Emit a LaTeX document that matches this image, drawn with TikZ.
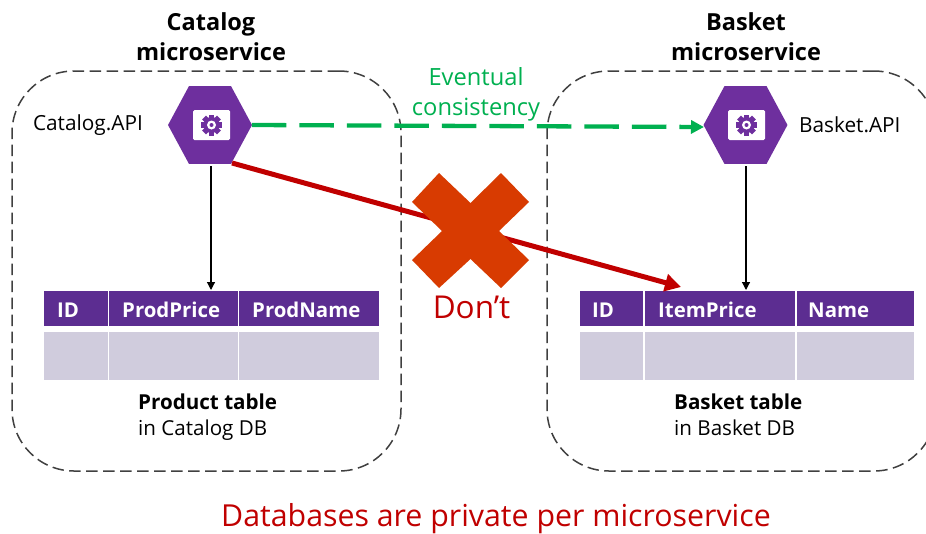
\documentclass[tikz,border=0pt]{standalone}
\usepackage{fontspec}
\setmainfont{Open Sans}
\usetikzlibrary{shapes.geometric,arrows.meta}
\definecolor{ppl}{HTML}{5C2D91}
\definecolor{hexp}{HTML}{6E2F9E}
\definecolor{lgt}{HTML}{D0CCDD}
\definecolor{redd}{HTML}{C00000}
\definecolor{org}{HTML}{D83B01}
\definecolor{grn}{HTML}{00B050}
\tikzset{
  svcbox/.style={draw=black!75,line width=1.5pt,dash pattern=on 11.5pt off 5.5pt,rounded corners=62pt,minimum width=389pt,minimum height=400pt,inner sep=0pt},
  hexa/.style={regular polygon,regular polygon sides=6,xscale=0.933,fill=hexp,minimum size=90pt,inner sep=0pt,outer sep=0pt},
  headcell/.style={fill=ppl,text=white,font=\fontsize{20.4}{24}\selectfont\bfseries,minimum height=35pt,inner xsep=13pt,inner ysep=0pt,anchor=west,align=left,text width=#1,text height=18pt,text depth=1pt},
  bodycell/.style={fill=lgt,minimum height=48pt,minimum width=#1,inner sep=0pt,anchor=west},
  title/.style={font=\fontsize{23.5}{30}\selectfont\bfseries,align=center},
  apilabel/.style={font=\fontsize{20.8}{24}\selectfont,anchor=west},
  caption/.style={font=\fontsize{20.6}{26}\selectfont,align=left,anchor=west,inner sep=0pt},
  link/.style={black,line width=1.2pt,-{Triangle[length=8pt,width=8pt]}},
}
\newcommand{\gearicon}[1]{%
  \begin{scope}[shift={(#1)}]
    \fill[white,rounded corners=1.5pt] (-18.5,-15) rectangle (18.5,15);
    \foreach \a in {0,45,...,315}{\fill[hexp,rotate=\a] (-2.8,-10.5) rectangle (2.8,0);}
    \fill[hexp] (0,0) circle (8);
    \fill[white] (0,0) circle (4.5);
    \fill[hexp] (0,0) circle (2);
  \end{scope}}
\begin{document}
\begin{tikzpicture}[x=1pt,y=-1pt]
\useasboundingbox (0,0) rectangle (926,533);
\clip (0,0) rectangle (926,533);
\node[svcbox] (catbox) at (206.5,271) {};
\node[svcbox] (basbox) at (741.5,271) {};
\node[title] (cattitle) at (211,37) {Catalog\\microservice};
\node[title] (bastitle) at (746,37) {Basket\\microservice};
\node[hexa] (catapi) at (210,125) {};
\node[hexa] (basapi) at (745.5,125) {};
\gearicon{211.5,125}
\gearicon{746.5,125}
\node[apilabel] (catlabel) at (29.5,125) {Catalog.API};
\node[apilabel] (baslabel) at (795.5,125) {Basket.API};
% product table
\node[headcell=38pt] (pid) at (44,308.5) {ID};
\node[headcell=103pt] (pprice) at (109,308.5) {ProdPrice};
\node[headcell=114pt] (pname) at (239,308.5) {ProdName};
\node[bodycell=64pt] (pb1) at (44,356) {};
\node[bodycell=129pt] (pb2) at (109,356) {};
\node[bodycell=140pt] (pb3) at (239,356) {};
% basket table
\node[headcell=39pt,inner xsep=12pt] (bid) at (580,308.5) {ID};
\node[headcell=124pt] (bprice) at (645,308.5) {ItemPrice};
\node[headcell=95pt,inner xsep=11pt] (bname) at (797,308.5) {Name};
\node[bodycell=63pt] (bb1) at (580,356) {};
\node[bodycell=150pt] (bb2) at (645,356) {};
\node[bodycell=117pt] (bb3) at (797,356) {};
\node[caption] (pcap) at (138,417) {\textbf{Product table}\\in Catalog DB};
\node[caption] (bcap) at (674,415) {\textbf{Basket table}\\in Basket DB};
\coordinate (catfoot) at (211,166);
\coordinate (catin) at (211,290);
\coordinate (basfoot) at (746,166);
\coordinate (basin) at (746,290);
\coordinate (redstart) at (232,163);
\coordinate (redend) at (681,287);
\coordinate (grnend) at (704,127);
\draw[link] (catfoot) -- (catin);
\draw[link] (basfoot) -- (basin);
\draw[grn,line width=4.3pt,dash pattern=on 34.5pt off 13pt,-{Triangle[length=13pt,width=13pt]}] (catapi.east) -- (grnend);
\draw[redd,line width=5pt,-{Triangle[length=16pt,width=17pt]}] (redstart) -- (redend);
\fill[org] (439,173) -- (470.5,203) -- (501,173) -- (529,202) -- (499,231) -- (529,260) -- (501,288) -- (470.5,259) -- (439,288) -- (412,260) -- (442,231) -- (412,202) -- cycle;
\node[font=\fontsize{23.7}{30}\selectfont,text=grn,align=center] (evt) at (476,94) {Eventual\\consistency};
\node[font=\fontsize{31.5}{36}\selectfont,text=redd] (dont) at (471.5,307.5) {Don’t};
\node[font=\fontsize{30.3}{36}\selectfont,text=redd] (foot) at (496,519) {Databases are private per microservice};
\end{tikzpicture}
\end{document}
